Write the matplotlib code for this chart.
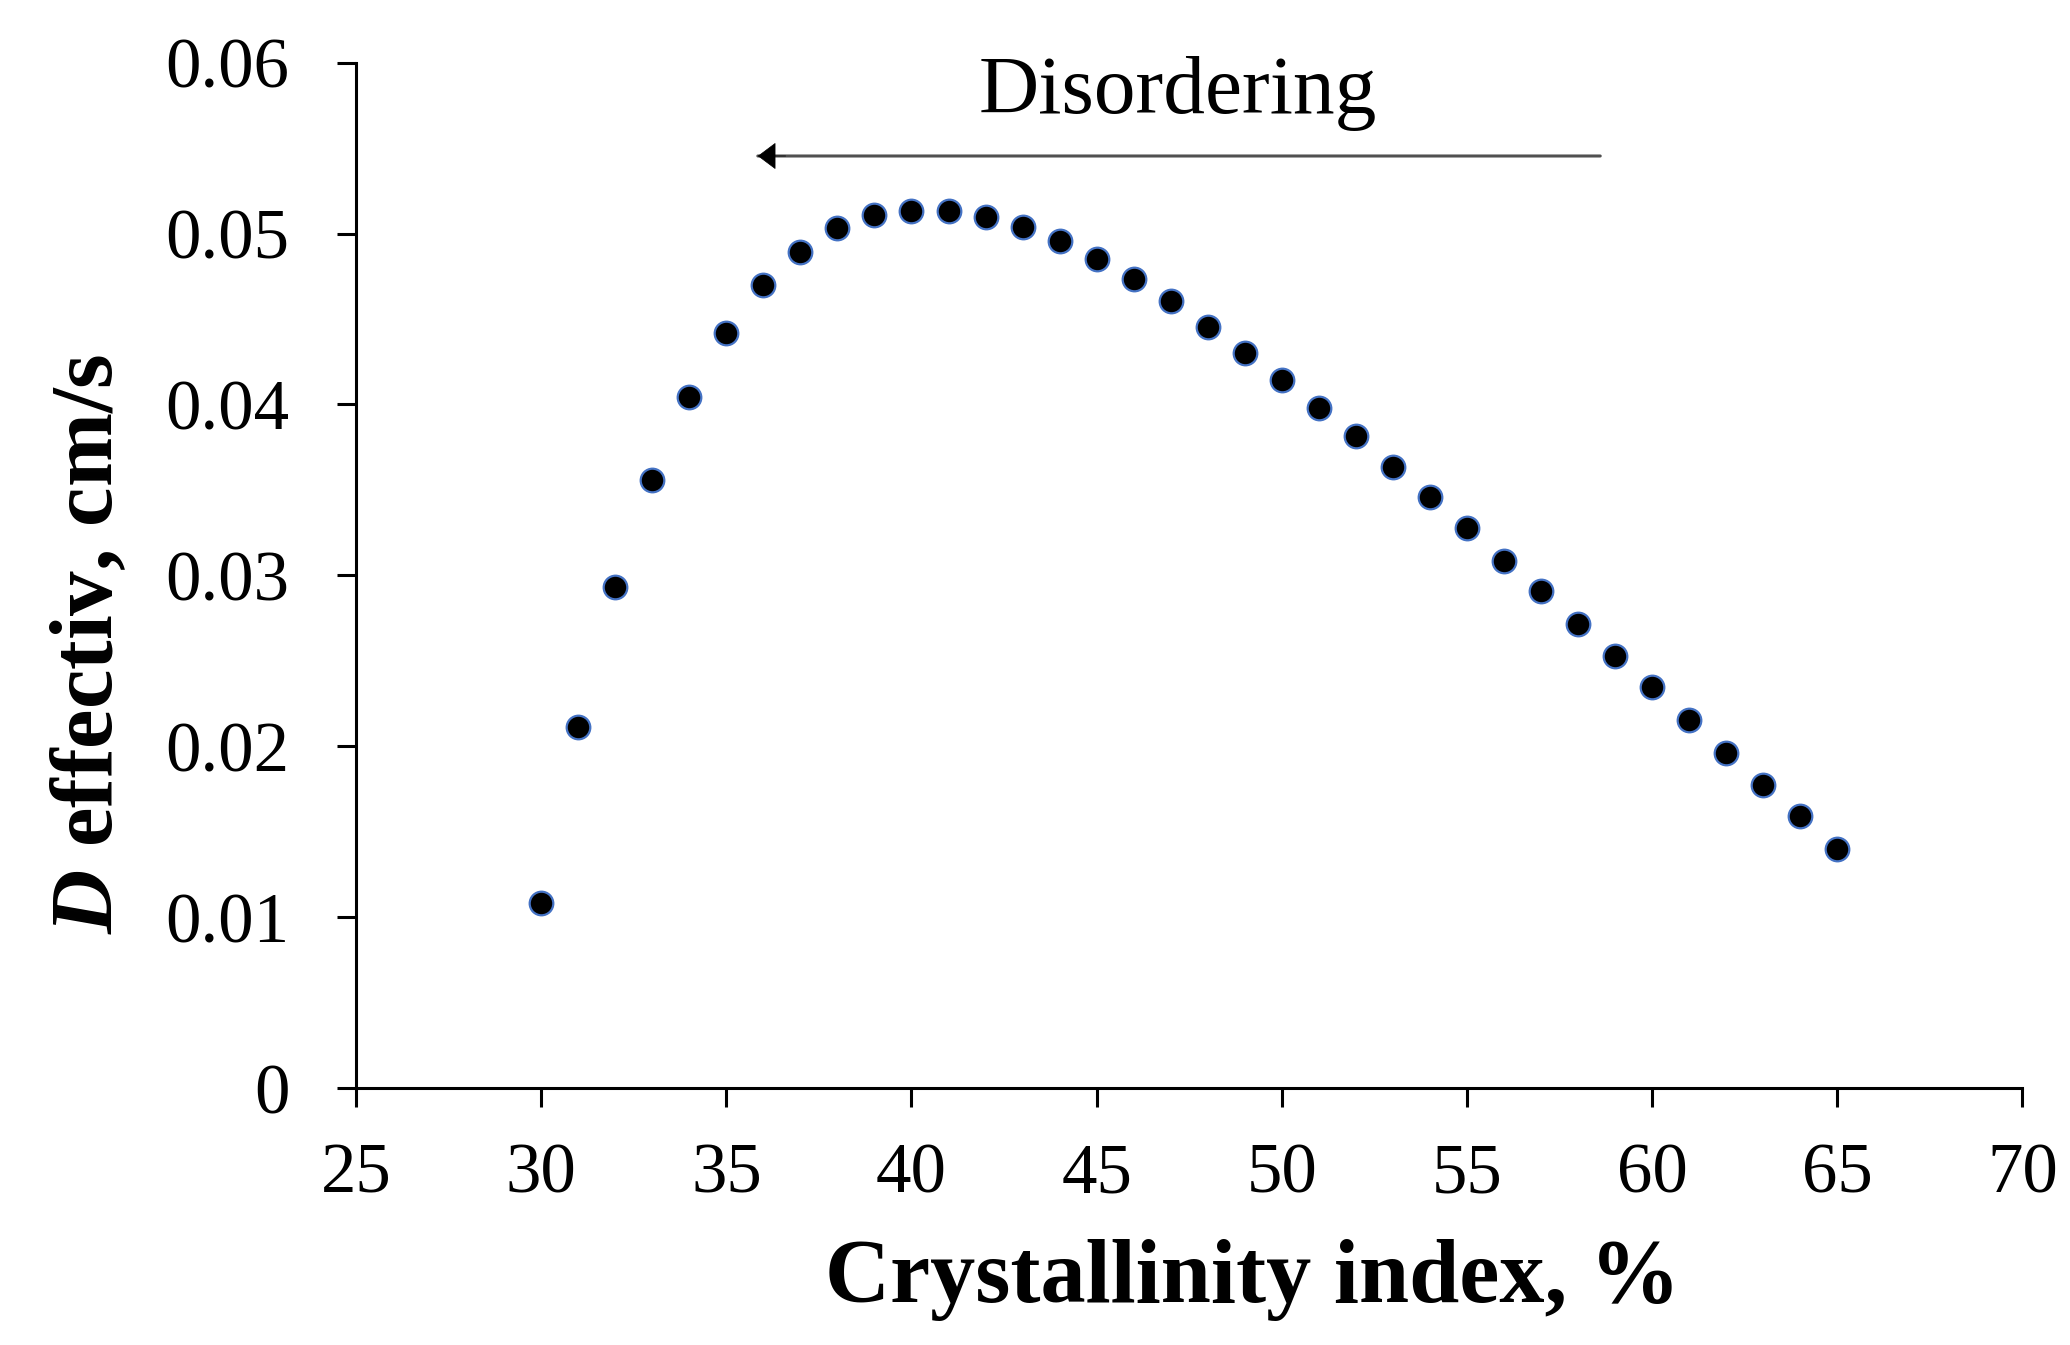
import matplotlib
matplotlib.use("Agg")
import matplotlib.pyplot as plt

plt.rcParams['font.family'] = ['Liberation Serif', 'DejaVu Serif']
plt.rcParams['mathtext.fontset'] = 'custom'
plt.rcParams['mathtext.rm'] = 'Liberation Serif'
plt.rcParams['mathtext.bf'] = 'Liberation Serif:bold'
plt.rcParams['mathtext.it'] = 'Liberation Serif:italic'
plt.rcParams['mathtext.bfit'] = 'Liberation Serif:italic:bold'

crystallinity = [30, 31, 32, 33, 34, 35, 36, 37, 38, 39, 40, 41, 42, 43, 44, 45, 46, 47,
                 48, 49, 50, 51, 52, 53, 54, 55, 56, 57, 58, 59, 60, 61, 62, 63, 64, 65]
d_effective = [0.01085, 0.02114, 0.02934, 0.03558, 0.04042, 0.04416, 0.04697, 0.04892,
               0.05032, 0.05110, 0.05134, 0.05134, 0.05095, 0.05040, 0.04954, 0.04853,
               0.04736, 0.04603, 0.04455, 0.04299, 0.04143, 0.03979, 0.03815, 0.03636,
               0.03456, 0.03277, 0.03082, 0.02910, 0.02715, 0.02528, 0.02348, 0.02153,
               0.01958, 0.01771, 0.01592, 0.01397]

xticks = [25, 30, 35, 40, 45, 50, 55, 60, 65, 70]
xtick_labels = ['25', '30', '35', '40', '45', '50', '55', '60', '65', '70']
yticks = [0, 0.01, 0.02, 0.03, 0.04, 0.05, 0.06]
ytick_labels = ['0', '0.01', '0.02', '0.03', '0.04', '0.05', '0.06']

fig = plt.figure(figsize=(20.7, 13.45), dpi=100)
ax = fig.add_axes([0.172, 0.191, 0.805, 0.7624])

ax.plot(crystallinity, d_effective, linestyle='none', marker='o', markersize=17,
        markerfacecolor='black', markeredgecolor='#4472C4', markeredgewidth=1.6,
        clip_on=False)

ax.set_xlim(25, 70)
ax.set_ylim(0, 0.06)
ax.set_xticks(xticks)
ax.set_xticklabels(xtick_labels)
ax.set_yticks(yticks)
ax.set_yticklabels(ytick_labels)

for s in ['top', 'right']:
    ax.spines[s].set_visible(False)
for s in ['left', 'bottom']:
    ax.spines[s].set_linewidth(2.2)

ax.tick_params(axis='both', direction='out', length=14, width=2.2, labelsize=51)
ax.tick_params(axis='x', pad=25)
ax.tick_params(axis='y', pad=34)

ax.set_xlabel('Crystallinity index, %', fontsize=65, fontweight='bold', va='center')
ax.xaxis.set_label_coords(0.538, -0.187)
ax.set_ylabel(r'$\mathbfit{D}$ effectiv, cm/s', fontsize=64, fontweight='bold', va='center')
ax.yaxis.set_label_coords(-0.159, 0.433)

ax.annotate('', xy=(35.85, 0.05454), xytext=(58.6, 0.05454),
            arrowprops=dict(arrowstyle='-', color='#505050', lw=2.2,
                            shrinkA=0, shrinkB=0))
ax.annotate('', xy=(35.85, 0.05454), xytext=(36.6, 0.05454),
            arrowprops=dict(arrowstyle='-|>,head_length=1.2,head_width=0.9',
                            color='black', lw=0.5, shrinkA=0, shrinkB=0))
ax.text(47.2, 0.0582, 'Disordering', fontsize=60, ha='center', va='center')

fig.savefig('out.png', dpi=100)
